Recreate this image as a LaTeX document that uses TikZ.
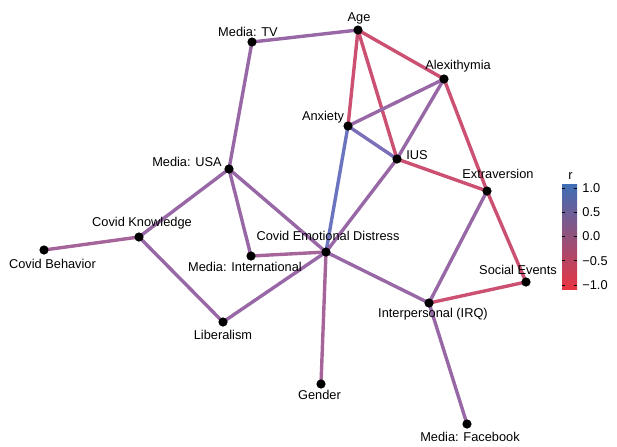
\documentclass[tikz,border=0pt]{standalone}
\usepackage{fontspec}
\setmainfont{Liberation Sans}
\usepackage{tikz}
\usetikzlibrary{backgrounds}

\definecolor{rneg}{RGB}{204,80,114}
\definecolor{rlow}{RGB}{152,104,166}
\definecolor{rtiny}{RGB}{166,101,154}
\definecolor{rmod}{RGB}{124,110,184}
\definecolor{rpos}{RGB}{106,116,191}
\definecolor{bartop}{RGB}{62,110,182}
\definecolor{barmid}{RGB}{160,100,150}
\definecolor{barbot}{RGB}{232,52,66}

\begin{document}
\begin{tikzpicture}[x=0.5pt,y=-0.5pt,
  dot/.style={circle,fill=black,inner sep=0pt,minimum size=4.6pt},
  lbl/.style={inner sep=0pt,anchor=base,font=\fontsize{6.4}{7.5}\selectfont},
  edge/.style={line width=1.7pt}]
\useasboundingbox (0,0) rectangle (617,446);

\node[dot] (age) at (358,30) {};
\node[dot] (tv) at (252,42) {};
\node[dot] (alex) at (444,79) {};
\node[dot] (anx) at (348,126) {};
\node[dot] (ius) at (397,159) {};
\node[dot] (usa) at (229,169) {};
\node[dot] (extra) at (487,191) {};
\node[dot] (know) at (139,237) {};
\node[dot] (behav) at (44,250) {};
\node[dot] (intl) at (251,256) {};
\node[dot] (ced) at (326,252) {};
\node[dot] (social) at (526,282) {};
\node[dot] (irq) at (429,303) {};
\node[dot] (lib) at (223,322) {};
\node[dot] (gender) at (321,384) {};
\node[dot] (fb) at (467,424) {};

\node[lbl] (age-l) at (359,21.5) {Age};
\node[lbl] (tv-l) at (248,36.5) {Media: TV};
\node[lbl] (alex-l) at (458,69.5) {Alexithymia};
\node[lbl] (anx-l) at (323,120.5) {Anxiety};
\node[lbl] (ius-l) at (417,159.5) {IUS};
\node[lbl] (usa-l) at (187,166.5) {Media: USA};
\node[lbl] (extra-l) at (498,178.5) {Extraversion};
\node[lbl] (know-l) at (142,226) {Covid Knowledge};
\node[lbl] (behav-l) at (52.5,268.5) {Covid Behavior};
\node[lbl] (intl-l) at (245,271.5) {Media: International};
\node[lbl] (ced-l) at (328,240) {Covid Emotional Distress};
\node[lbl] (social-l) at (518,274.5) {Social Events};
\node[lbl] (irq-l) at (433,317.5) {Interpersonal (IRQ)};
\node[lbl] (lib-l) at (223,339.5) {Liberalism};
\node[lbl] (gender-l) at (319.5,399.5) {Gender};
\node[lbl] (fb-l) at (470,441.8) {Media: Facebook};

\begin{scope}[on background layer]
\draw[edge,rlow] (age.center) -- (tv.center);
\draw[edge,rneg] (age.center) -- (anx.center);
\draw[edge,rneg] (age.center) -- (ius.center);
\draw[edge,rneg] (age.center) -- (alex.center);
\draw[edge,rlow] (tv.center) -- (usa.center);
\draw[edge,rlow] (alex.center) -- (anx.center);
\draw[edge,rlow] (alex.center) -- (ius.center);
\draw[edge,rneg] (alex.center) -- (extra.center);
\draw[edge,rmod] (anx.center) -- (ius.center);
\draw[edge,rpos] (anx.center) -- (ced.center);
\draw[edge,rlow] (ius.center) -- (ced.center);
\draw[edge,rneg] (ius.center) -- (extra.center);
\draw[edge,rlow] (extra.center) -- (irq.center);
\draw[edge,rneg] (extra.center) -- (social.center);
\draw[edge,rneg] (social.center) -- (irq.center);
\draw[edge,rlow] (irq.center) -- (ced.center);
\draw[edge,rlow] (irq.center) -- (fb.center);
\draw[edge,rtiny] (ced.center) -- (gender.center);
\draw[edge,rtiny] (ced.center) -- (intl.center);
\draw[edge,rlow] (ced.center) -- (usa.center);
\draw[edge,rlow] (ced.center) -- (lib.center);
\draw[edge,rlow] (usa.center) -- (intl.center);
\draw[edge,rlow] (usa.center) -- (know.center);
\draw[edge,rtiny] (know.center) -- (behav.center);
\draw[edge,rlow] (know.center) -- (lib.center);
\end{scope}

\node[lbl,anchor=base west] (r-l) at (568,179) {r};
\shade[top color=bartop,middle color=barmid,bottom color=barbot] (562,184) rectangle (577,289);
\foreach \yy/\tt in {188/1.0,212.25/0.5,236.5/0.0,260.75/−0.5,285/−1.0} {
  \draw[line width=0.5pt] (562,\yy) -- (565,\yy);
  \draw[line width=0.5pt] (574,\yy) -- (577,\yy);
  \node[lbl,anchor=west] at (582,\yy) {\tt};
}
\end{tikzpicture}
\end{document}
